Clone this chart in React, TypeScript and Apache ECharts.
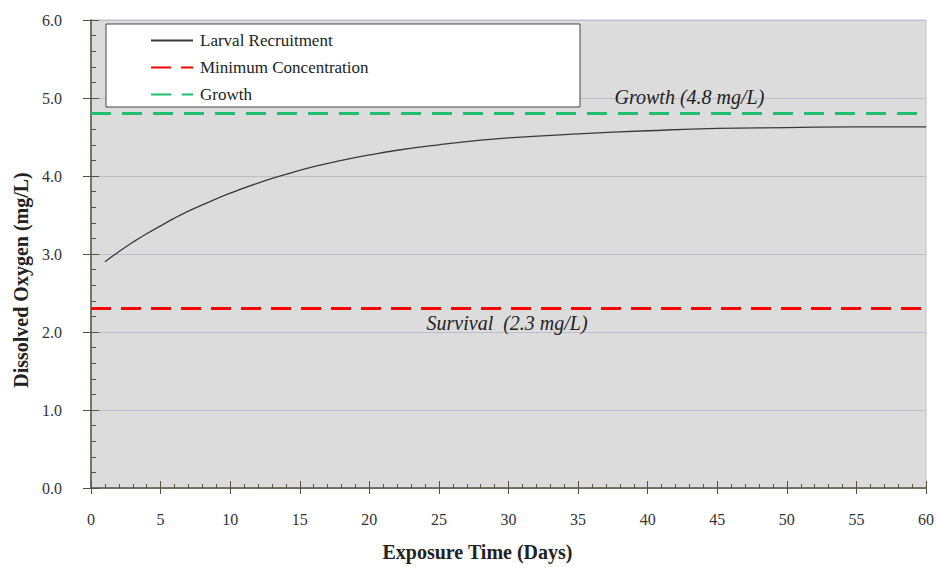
import React, { useEffect, useRef } from "react";
import * as echarts from "echarts";

const days = [1, 2, 3, 4, 5, 6, 7, 8, 10, 12, 14, 16, 18, 20, 22, 25, 28, 30, 35, 40, 45, 50, 55, 60];
const recruitment = [2.9, 3.03, 3.15, 3.26, 3.36, 3.46, 3.55, 3.63, 3.78, 3.91, 4.02, 4.12, 4.2, 4.27, 4.33, 4.4, 4.46, 4.49, 4.54, 4.58, 4.61, 4.62, 4.63, 4.63];
const growthLevel = 4.8;
const survivalLevel = 2.3;
const xRange = [0, 60];
const seriesNames = ["Larval Recruitment", "Minimum Concentration", "Growth"];

const serif = "Liberation Serif";

export default function App() {
  const ref = useRef<HTMLDivElement>(null);
  useEffect(() => {
    const chart = echarts.init(ref.current!, null, { renderer: "svg" });
    const axisColor = "#55553f";
    const labelStyle = { color: "#333", fontFamily: serif, fontSize: 16 };
    chart.setOption({
      animation: false,
      backgroundColor: "#ffffff",
      textStyle: { fontFamily: serif },
      grid: {
        left: 91,
        right: 5,
        top: 20,
        bottom: 78,
        show: true,
        backgroundColor: "#dcdcdc",
        borderColor: "#c6c2d0",
        borderWidth: 1,
      },
      legend: {
        orient: "vertical",
        left: 145,
        top: 27,
        itemWidth: 42,
        itemHeight: 14,
        itemGap: 10,
        z: 10,
        data: seriesNames.map((name) => ({ name, textStyle: { fontFamily: serif } })),
        itemStyle: { opacity: 0 },
        textStyle: { fontFamily: serif, fontSize: 17, color: "#222", padding: [0, 0, 0, 2] },
      },
      graphic: [
        {
          type: "rect",
          z: 5,
          shape: { x: 106, y: 24, width: 474, height: 83 },
          style: { fill: "#ffffff", stroke: "#444", lineWidth: 1 },
        },
      ],
      xAxis: [
        {
          type: "value",
          min: xRange[0],
          max: xRange[1],
          interval: 5,
          name: "Exposure Time (Days)",
          nameLocation: "middle",
          nameGap: 54,
          nameTextStyle: { fontFamily: serif, fontSize: 20, fontWeight: "bold", color: "#222", padding: [0, 62, 0, 0] },
          axisLine: { show: true, lineStyle: { color: axisColor, width: 1.5 } },
          axisTick: { show: true, length: 6, lineStyle: { color: axisColor } },
          axisLabel: { ...labelStyle, margin: 23 },
          splitLine: { show: false },
        },
        {
          type: "value",
          position: "bottom",
          min: xRange[0],
          max: xRange[1],
          interval: 5,
          axisLine: { show: false },
          axisTick: { show: true, inside: true, length: 7, lineStyle: { color: axisColor } },
          minorTick: { show: true, splitNumber: 5, length: 4, lineStyle: { color: axisColor } },
          axisLabel: { show: false },
          splitLine: { show: false },
        },
      ],
      yAxis: [
        {
          type: "value",
          min: 0,
          max: 6,
          interval: 1,
          name: "Dissolved Oxygen (mg/L)",
          nameLocation: "middle",
          nameGap: 60,
          nameTextStyle: { fontFamily: serif, fontSize: 20, fontWeight: "bold", color: "#222", padding: [0, 52, 0, 0] },
          axisLine: { show: true, lineStyle: { color: axisColor, width: 1.5 } },
          axisTick: { show: true, length: 8, lineStyle: { color: axisColor } },
          axisLabel: { ...labelStyle, margin: 29, formatter: (v: number) => v.toFixed(1) },
          splitLine: { show: true, lineStyle: { color: "#bcbccc", width: 1 } },
        },
        {
          type: "value",
          position: "left",
          min: 0,
          max: 6,
          interval: 1,
          axisLine: { show: false },
          axisTick: { show: true, inside: true, length: 8, lineStyle: { color: axisColor } },
          minorTick: { show: true, splitNumber: 5, length: 5, lineStyle: { color: axisColor } },
          axisLabel: { show: false },
          splitLine: { show: false },
        },
      ],
      series: [
        {
          name: seriesNames[0],
          type: "line",
          data: days.map((d, i) => [d, recruitment[i]]),
          smooth: true,
          symbol: "none",
          lineStyle: { color: "#3a3a3a", width: 1.3 },
          itemStyle: { color: "#3a3a3a" },
          z: 4,
        },
        {
          name: seriesNames[1],
          type: "line",
          data: xRange.map((x) => [x, survivalLevel]),
          symbol: "none",
          lineStyle: { color: "#ff0000", width: 3, type: [20, 10] },
          itemStyle: { color: "#ff0000" },
          z: 3,
          markPoint: {
            symbol: "circle",
            symbolSize: 0,
            data: [
              {
                coord: [29.9, survivalLevel],
                label: {
                  show: true,
                  position: "bottom",
                  distance: 4,
                  formatter: "Survival  (2.3 mg/L)",
                  fontFamily: serif,
                  fontStyle: "italic",
                  fontSize: 20,
                  color: "#222",
                },
              },
            ],
          },
        },
        {
          name: seriesNames[2],
          type: "line",
          data: xRange.map((x) => [x, growthLevel]),
          symbol: "none",
          lineStyle: { color: "#1fbf6f", width: 3, type: [20, 11] },
          itemStyle: { color: "#1fbf6f" },
          z: 3,
          markPoint: {
            symbol: "circle",
            symbolSize: 0,
            data: [
              {
                coord: [43, growthLevel],
                label: {
                  show: true,
                  position: "top",
                  distance: 7,
                  formatter: "Growth (4.8 mg/L)",
                  fontFamily: serif,
                  fontStyle: "italic",
                  fontSize: 20,
                  color: "#222",
                },
              },
            ],
          },
        },
      ],
    });
    return () => chart.dispose();
  }, []);
  return <div ref={ref} style={{ width: 937, height: 567, position: "absolute", left: 0, top: 0 }} />;
}
